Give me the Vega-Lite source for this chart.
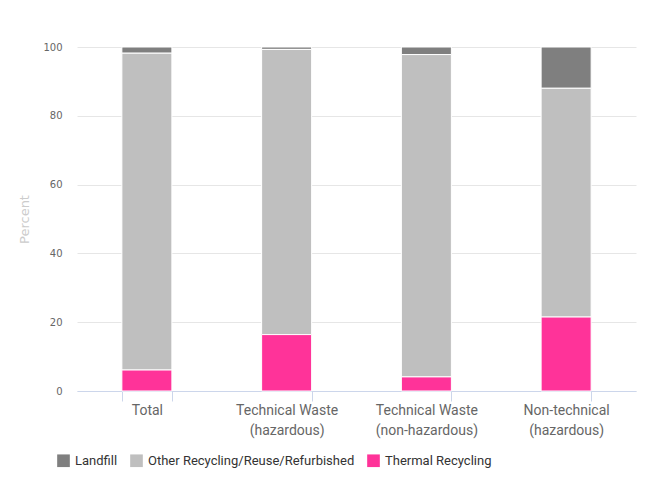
{
  "$schema": "https://vega.github.io/schema/vega-lite/v6.json",
  "autosize": "none",
  "padding": {"left": 77, "top": 47, "right": 28, "bottom": 106},
  "width": 559,
  "height": 344,
  "background": "white",
  "data": {
    "values": [
      {"category": "Total", "type": "Landfill", "value": 1.8, "ord": 3},
      {"category": "Total", "type": "Other Recycling/Reuse/Refurbished", "value": 92.1, "ord": 2},
      {"category": "Total", "type": "Thermal Recycling", "value": 6.1, "ord": 1},
      {"category": "Technical Waste (hazardous)", "type": "Landfill", "value": 0.7, "ord": 3},
      {"category": "Technical Waste (hazardous)", "type": "Other Recycling/Reuse/Refurbished", "value": 82.9, "ord": 2},
      {"category": "Technical Waste (hazardous)", "type": "Thermal Recycling", "value": 16.4, "ord": 1},
      {"category": "Technical Waste (non-hazardous)", "type": "Landfill", "value": 2.2, "ord": 3},
      {"category": "Technical Waste (non-hazardous)", "type": "Other Recycling/Reuse/Refurbished", "value": 93.7, "ord": 2},
      {"category": "Technical Waste (non-hazardous)", "type": "Thermal Recycling", "value": 4.1, "ord": 1},
      {"category": "Non-technical (hazardous)", "type": "Landfill", "value": 12.0, "ord": 3},
      {"category": "Non-technical (hazardous)", "type": "Other Recycling/Reuse/Refurbished", "value": 66.5, "ord": 2},
      {"category": "Non-technical (hazardous)", "type": "Thermal Recycling", "value": 21.5, "ord": 1}
    ]
  },
  "mark": {"type": "bar", "stroke": "white", "strokeWidth": 1},
  "encoding": {
    "x": {
      "field": "category",
      "type": "nominal",
      "sort": null,
      "scale": {"paddingInner": 0.642, "paddingOuter": 0.321},
      "axis": {
        "title": null,
        "labelAngle": 0,
        "labelColor": "#666666",
        "labelFont": "Roboto",
        "labelFontSize": 14,
        "labelLineHeight": 20,
        "labelPadding": 2,
        "labelLimit": 200,
        "labelExpr": "indexof(datum.label, ' (') > 0 ? [substring(datum.label, 0, indexof(datum.label, ' (')), substring(datum.label, indexof(datum.label, ' (') + 1)] : datum.label",
        "domainColor": "#ccd6eb",
        "domainWidth": 1,
        "tickColor": "#ccd6eb",
        "tickSize": 10,
        "tickBand": "extent",
        "grid": false
      }
    },
    "y": {
      "field": "value",
      "type": "quantitative",
      "stack": "zero",
      "scale": {"domain": [0, 100], "nice": false},
      "axis": {
        "title": "Percent",
        "titleColor": "#cccccc",
        "titleFont": "DejaVu Sans",
        "titleFontSize": 13,
        "titleFontWeight": "normal",
        "titlePadding": 11,
        "values": [0, 20, 40, 60, 80, 100],
        "labelColor": "#666666",
        "labelFont": "DejaVu Sans",
        "labelFontSize": 10,
        "labelPadding": 15,
        "ticks": false,
        "domain": false,
        "gridColor": "#e6e6e6",
        "gridWidth": 1
      }
    },
    "color": {
      "field": "type",
      "type": "nominal",
      "scale": {
        "domain": ["Landfill", "Other Recycling/Reuse/Refurbished", "Thermal Recycling"],
        "range": ["#7f7f7f", "#bfbfbf", "#ff3399"]
      },
      "legend": {
        "title": null,
        "orient": "none",
        "direction": "horizontal",
        "legendX": -20,
        "legendY": 407,
        "symbolType": "square",
        "symbolSize": 160,
        "symbolStrokeWidth": 0,
        "labelFont": "Roboto",
        "labelFontSize": 13,
        "labelColor": "#333333",
        "labelLimit": 300,
        "columnPadding": 12,
        "labelOffset": 5
      }
    },
    "order": {"field": "ord", "type": "quantitative"}
  },
  "config": {
    "view": {"stroke": null}
  }
}
